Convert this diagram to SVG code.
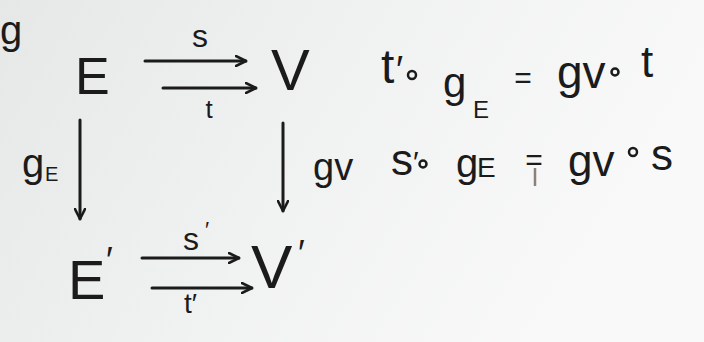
<svg xmlns="http://www.w3.org/2000/svg" width="704" height="342" viewBox="0 0 704 342">
<style>
.t{font-family:"Liberation Sans","DejaVu Sans",sans-serif;fill:#1b1b1b}
.ln{stroke:#1b1b1b;stroke-width:3;fill:none;stroke-linecap:round}
</style>
<defs>
<linearGradient id="bg" x1="0" y1="0" x2="1" y2="0.3">
<stop offset="0" stop-color="#e6e8e8"/>
<stop offset="0.55" stop-color="#f1f2f2"/>
<stop offset="1" stop-color="#f9f9f9"/>
</linearGradient>
<marker id="ah" viewBox="0 0 12 12" refX="11" refY="6" markerWidth="12" markerHeight="12" markerUnits="userSpaceOnUse" orient="auto">
<path d="M1,1 L11,6 L1,11" fill="none" stroke="#1b1b1b" stroke-width="2.6" stroke-linecap="round" stroke-linejoin="round"/>
</marker>
</defs>
<rect width="704" height="342" fill="url(#bg)"/>
<text class="t" x="0" y="44" font-size="40">g</text>
<g id="node-E"><text class="t" x="75" y="94" font-size="52">E</text></g>
<g id="node-V"><text class="t" x="271" y="90" font-size="58">V</text></g>
<g id="node-E2"><text class="t" x="68" y="299" font-size="56">E</text><text class="t" x="106" y="273" font-size="36">′</text></g>
<g id="node-V2"><text class="t" x="251" y="288" font-size="62">V</text><text class="t" x="298" y="266" font-size="36">′</text></g>
<g id="connectors">
<line class="ln" x1="145" y1="61" x2="246" y2="61" marker-end="url(#ah)"/>
<line class="ln" x1="163" y1="88" x2="256" y2="88" marker-end="url(#ah)"/>
<line class="ln" x1="80" y1="120" x2="80" y2="219" marker-end="url(#ah)"/>
<line class="ln" x1="283" y1="123" x2="283" y2="211" marker-end="url(#ah)"/>
<line class="ln" x1="142" y1="258" x2="239" y2="258" marker-end="url(#ah)"/>
<line class="ln" x1="152" y1="288" x2="252" y2="288" marker-end="url(#ah)"/>
<text class="t" x="200" y="47" font-size="32" text-anchor="middle">s</text>
<text class="t" x="209" y="118" font-size="26" text-anchor="middle">t</text>
<text class="t" x="22" y="177" font-size="40">g</text><text class="t" x="45" y="181" font-size="20">E</text>
<text class="t" x="313" y="180" font-size="38">gv</text>
<text class="t" x="183" y="250" font-size="32">s</text><text class="t" x="205" y="237" font-size="22">′</text>
<text class="t" x="184" y="313" font-size="28">t′</text>
</g>
<g id="eq1">
<text class="t" x="381" y="83" font-size="48">t</text>
<text class="t" x="396" y="83" font-size="38">′</text>
<circle cx="412" cy="75" r="4" fill="none" stroke="#1b1b1b" stroke-width="2.5"/>
<text class="t" x="443" y="97" font-size="42">g</text>
<text class="t" x="473" y="118" font-size="24">E</text>
<text class="t" x="523" y="88" font-size="30" text-anchor="middle">=</text>
<text class="t" x="557" y="88" font-size="46">gv</text>
<circle cx="615" cy="72" r="3.5" fill="none" stroke="#1b1b1b" stroke-width="2.5"/>
<text class="t" x="641" y="77" font-size="44">t</text>
</g>
<g id="eq2">
<text class="t" x="391" y="175" font-size="44">s</text>
<text class="t" x="413" y="172" font-size="30">′</text>
<circle cx="423" cy="164" r="3.5" fill="none" stroke="#1b1b1b" stroke-width="2.5"/>
<text class="t" x="456" y="177" font-size="40">g</text>
<text class="t" x="477" y="177" font-size="28">E</text>
<text class="t" x="534" y="170" font-size="30" text-anchor="middle">=</text>
<line x1="535" y1="168" x2="535" y2="186" stroke="#8a8178" stroke-width="2.5"/>
<text class="t" x="568" y="176" font-size="44">gv</text>
<circle cx="633" cy="152" r="4" fill="none" stroke="#1b1b1b" stroke-width="2.5"/>
<text class="t" x="651" y="170" font-size="44">s</text>
</g>
</svg>
